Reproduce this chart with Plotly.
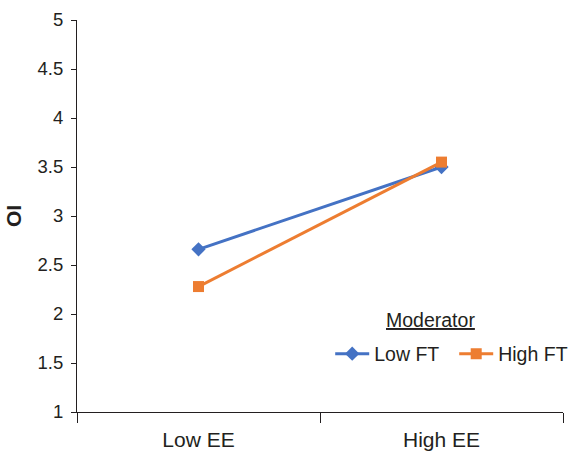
import plotly.graph_objects as go

categories = ["Low EE", "High EE"]
low_ft = [2.66, 3.50]
high_ft = [2.28, 3.55]
y_ticks = [1, 1.5, 2, 2.5, 3, 3.5, 4, 4.5, 5]
y_tick_labels = ["1", "1.5", "2", "2.5", "3", "3.5", "4", "4.5", "5"]

FONT = "Liberation Sans, Arial, sans-serif"
TXT = "#231f20"

fig = go.Figure()
fig.add_trace(go.Scatter(
    x=categories, y=low_ft, name="Low FT", mode="lines+markers",
    line=dict(color="#4472C4", width=3),
    marker=dict(symbol="diamond", size=11, color="#4472C4"),
))
fig.add_trace(go.Scatter(
    x=categories, y=high_ft, name="High FT", mode="lines+markers",
    line=dict(color="#ED7D31", width=3),
    marker=dict(symbol="square", size=11, color="#ED7D31"),
))

fig.update_layout(
    width=570, height=452,
    margin=dict(l=77, r=7, t=20, b=40, autoexpand=False),
    paper_bgcolor="white", plot_bgcolor="white",
    font=dict(family=FONT, color=TXT),
    showlegend=True,
    legend=dict(
        orientation="h", x=0.521, y=0.148, xanchor="left", yanchor="middle",
        font=dict(size=19.5, family=FONT, color=TXT),
        bgcolor="rgba(0,0,0,0)", itemwidth=34, entrywidth=75,
    ),
    xaxis=dict(
        type="category", range=[-0.5, 1.5], automargin=False,
        showline=True, linecolor="#231f20", linewidth=1,
        ticks="outside", tickson="boundaries", ticklen=10, tickcolor="#231f20",
        showgrid=False, zeroline=False, ticklabelstandoff=9,
        tickfont=dict(size=21, family=FONT, color=TXT),
    ),
    yaxis=dict(
        range=[1, 5], tickvals=y_ticks, ticktext=y_tick_labels, automargin=False,
        showline=True, linecolor="#231f20", linewidth=1,
        ticks="outside", ticklen=5, tickcolor="#231f20",
        showgrid=False, zeroline=False, ticklabelstandoff=4,
        tickfont=dict(size=18.5, family=FONT, color=TXT),
        title=dict(text="<b>OI</b>", font=dict(size=21, family=FONT, color=TXT), standoff=10),
    ),
    annotations=[dict(
        text="<u>Moderator</u>", xref="paper", yref="paper",
        x=0.728, y=0.235, xanchor="center", yanchor="middle", showarrow=False,
        font=dict(size=19.5, family=FONT, color=TXT),
    )],
)

fig.write_html("out.html")
